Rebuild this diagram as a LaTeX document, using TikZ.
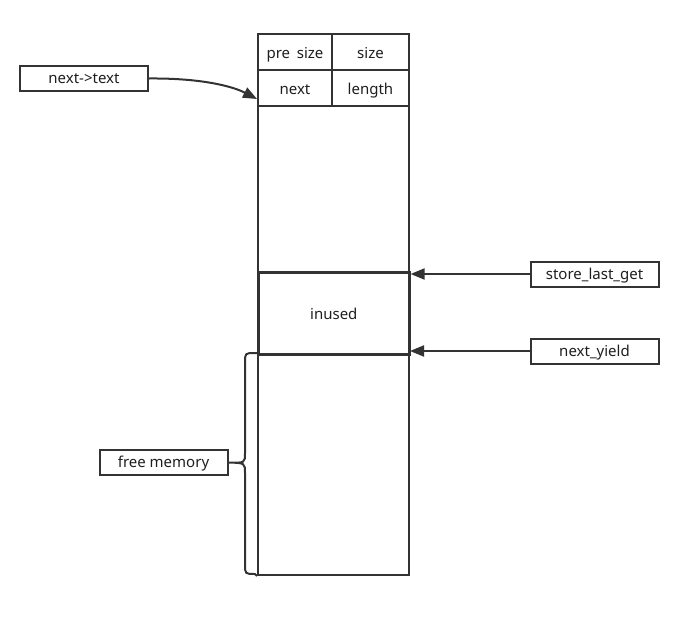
\documentclass[tikz,border=0pt]{standalone}
\usepackage{fontspec}
\setmainfont{Noto Sans}
\usetikzlibrary{arrows.meta}
\definecolor{ln}{HTML}{333333}
\definecolor{tx}{HTML}{1F1F1F}
\begin{document}
\begin{tikzpicture}[x=1pt,y=-1pt,
  cell/.style={draw=ln,line width=2pt,anchor=north west,inner sep=0pt,text=tx,font=\fontsize{15}{17}\selectfont,text height=16pt,text depth=3pt},
  lbl/.style={draw=ln,line width=2pt,inner sep=0pt,minimum width=128pt,minimum height=25pt,text=tx,font=\fontsize{15}{17}\selectfont,text height=13pt,text depth=3pt},
  arr/.style={draw=ln,line width=2pt,-{Triangle[length=14pt,width=11pt]}}]
\useasboundingbox (0,0) rectangle (680,616);
% main column
\node[cell,minimum width=74pt,minimum height=36pt] (pre) at (257,33) {pre\hspace{0.45em}size};
\node[cell,minimum width=77pt,minimum height=36pt] (size) at (331,33) {size};
\node[cell,minimum width=74pt,minimum height=36pt] (next) at (257,69) {next};
\node[cell,minimum width=77pt,minimum height=36pt] (length) at (331,69) {length};
\node[cell,minimum width=151pt,minimum height=166pt] (body) at (257,105) {};
\node[cell,minimum width=151pt,minimum height=82pt,line width=2.6pt] (inused) at (257,271) {inused};
\node[cell,minimum width=151pt,minimum height=221pt] (free) at (257,353) {};
% labels
\node[lbl] (nt) at (84,78.5) {next->text};
\node[lbl] (slg) at (594.5,274) {store\_last\_get};
\node[lbl] (ny) at (594.5,351) {next\_yield};
\node[lbl] (fm) at (163.5,462.5) {free memory};
% arrows
\coordinate (ntend) at (257,99);
\draw[arr] (nt.east) .. controls (200,78) and (232,86) .. (ntend);
\draw[arr] (slg.west) -- (slg.west -| inused.east);
\draw[arr] (ny.west) -- (ny.west -| free.east);
% brace
\draw[ln,line width=2pt] (free.north west) -- (255,353) .. controls (245,353) .. (245,363) -- (245,453)
  .. controls (245,463) .. (fm.east) .. controls (245,463) .. (245,473) -- (245,564)
  .. controls (245,574) .. (255,574) -- (free.south west);
\end{tikzpicture}
\end{document}
